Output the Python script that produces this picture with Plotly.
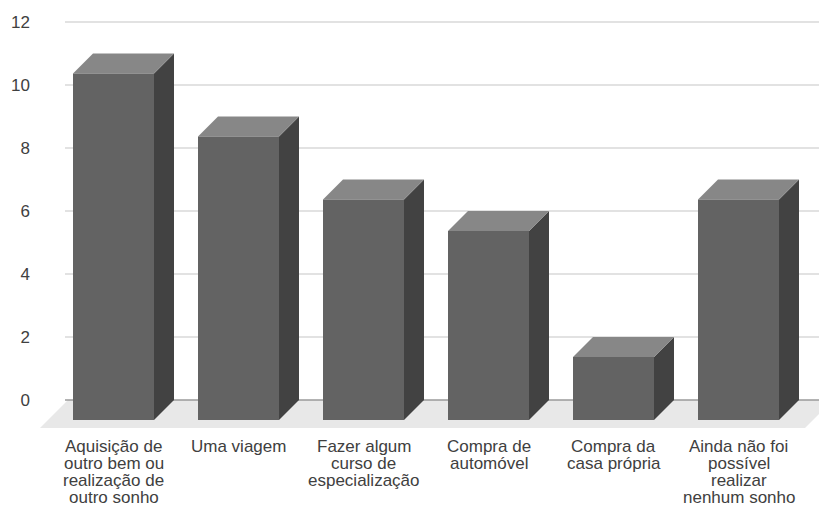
import plotly.graph_objects as go

# Survey answers and counts
categories = [
    ["Aquisição de", "outro bem ou", "realização de", "outro sonho"],
    ["Uma viagem"],
    ["Fazer algum", "curso de", "especialização"],
    ["Compra de", "automóvel"],
    ["Compra da", "casa própria"],
    ["Ainda não foi", "possível", "realizar", "nenhum sonho"],
]
values = [11, 9, 7, 6, 2, 7]
y_ticks = [0, 2, 4, 6, 8, 10, 12]

# Pseudo-3D geometry (in axis units)
HALF_W = 0.324          # half width of the front face
DX, DY = 0.16, 0.635     # bar depth offset (right, up)
FDX, FDY = 0.224, 0.889  # floor depth offset
WALL_LEFT = -0.388
X_RANGE = [-0.628, 5.644]
Y_RANGE = [-3.333, 12.698]

FRONT, TOP, SIDE = "#636363", "#878787", "#424242"
FLOOR, GRID, BASE = "#e8e8e8", "#d9d9d9", "#9a9a9a"
TXT = "#404040"
FONT = "Liberation Sans, Arial, sans-serif"

fig = go.Figure()

def poly(xs, ys, color):
    fig.add_trace(go.Scatter(
        x=xs + [xs[0]], y=ys + [ys[0]], mode="lines", fill="toself",
        fillcolor=color, line=dict(width=0, color=color),
        hoverinfo="skip", showlegend=False))

n = len(values)
# floor
fl = -0.5 - 0.088
fr = n - 0.5 + 0.032
poly([fl, fl + FDX, fr + FDX, fr], [-FDY, 0, 0, -FDY], FLOOR)

# back-wall gridlines
gx, gy = [], []
for t in y_ticks[1:]:
    gx += [WALL_LEFT, X_RANGE[1] + 1, None]
    gy += [t, t, None]
fig.add_trace(go.Scatter(x=gx, y=gy, mode="lines", line=dict(color=GRID, width=1.3),
                         hoverinfo="skip", showlegend=False))
fig.add_trace(go.Scatter(x=[WALL_LEFT, X_RANGE[1] + 1], y=[0, 0], mode="lines",
                         line=dict(color=BASE, width=1.3), hoverinfo="skip", showlegend=False))

# bars
for i, v in enumerate(values):
    l, r = i - HALF_W, i + HALF_W
    b, t = -DY, v - DY
    poly([r, r, r + DX, r + DX], [b, t, v, 0], SIDE)
    poly([l, r, r + DX, l + DX], [t, t, v, v], TOP)
    poly([l, r, r, l], [b, b, t, t], FRONT)

# category labels, one annotation per line
for i, lines in enumerate(categories):
    for k, line in enumerate(lines):
        fig.add_annotation(x=i, y=-FDY, xref="x", yref="y", text=line, showarrow=False,
                           xanchor="center", yanchor="middle", yshift=-(18 + 17 * k),
                           font=dict(family=FONT, size=17, color=TXT))

fig.update_layout(
    width=819, height=505,
    margin=dict(l=35, r=0, t=0, b=0),
    paper_bgcolor="white", plot_bgcolor="white",
    xaxis=dict(range=X_RANGE, visible=False, fixedrange=True),
    yaxis=dict(range=Y_RANGE, tickvals=y_ticks, showgrid=False, zeroline=False,
               showline=False, ticks="", ticklabelstandoff=4,
               tickfont=dict(family=FONT, size=17, color=TXT), fixedrange=True),
)

fig.write_html("out.html")
